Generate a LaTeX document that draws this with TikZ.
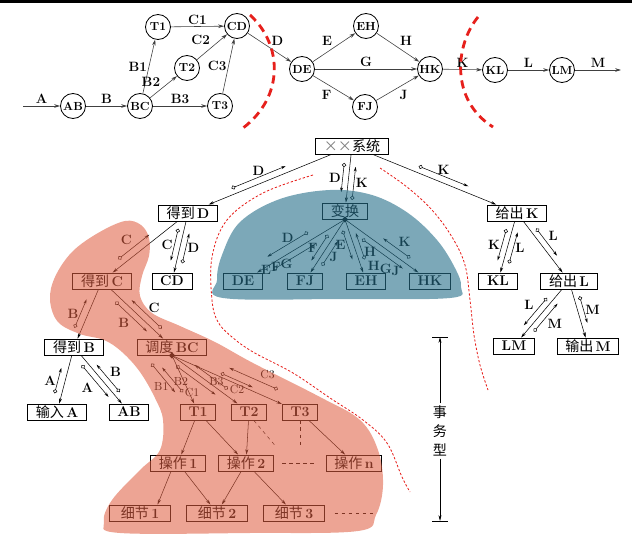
\documentclass[tikz,border=0pt]{standalone}
\usepackage{fontspec}
\newfontfamily\cjk{Noto Sans CJK SC}
\usetikzlibrary{arrows.meta,calc,shapes.geometric}
\definecolor{tint}{RGB}{223,93,64}
\definecolor{sea}{RGB}{37,110,137}
\definecolor{cutred}{RGB}{230,32,28}
\newcommand\zh[1]{{\cjk\mdseries #1}}
\newcommand\couple[8]{\draw[couple] ($(#1)!#3!(#2)!#4!90:(#2)$) -- node[lab,#7]{#8} ($(#1)!#5!(#2)!#6!90:(#2)$);}
\tikzset{
  mod/.style={draw, line width=0.8pt, fill=white, minimum height=4.8mm, inner xsep=7pt, inner ysep=1pt, font=\fontsize{12}{13}\selectfont\bfseries},
  bub/.style={circle, draw, line width=0.7pt, minimum size=7.5mm, inner sep=0pt, font=\fontsize{10}{11}\selectfont\bfseries},
  df/.style={-{Stealth[length=5pt,width=3pt]}, line width=0.5pt, draw=black!75},
  call/.style={-{Stealth[length=4.5pt,width=2.6pt]}, line width=0.45pt},
  couple/.style={{Circle[open,length=3.6pt,width=3.6pt]}-{Stealth[length=4pt,width=2.4pt]}, line width=0.45pt},
  lab/.style={font=\fontsize{11.5}{12}\selectfont\bfseries, inner sep=1.5pt},
  slab/.style={font=\fontsize{10}{11}\selectfont},
  cut/.style={cutred, line width=2.4pt, dash pattern=on 7pt off 4.5pt},
  fence/.style={cutred, line width=0.7pt, dash pattern=on 2pt off 1.6pt},
  zone/.style={fill=#1, fill opacity=0.56},
}
\begin{document}
\begin{tikzpicture}[x=0.03cm, y=-0.03cm]
\useasboundingbox (0,0) rectangle (632,535);
\fill (0,0) rectangle (632,3);
\node[bub] (pAB) at (73,106) {AB};
\node[bub] (pBC) at (140,106) {BC};
\node[bub] (pT1) at (158,27) {T1};
\node[bub] (pT2) at (187,68) {T2};
\node[bub] (pT3) at (220,106) {T3};
\node[bub] (pCD) at (237,26) {CD};
\node[bub] (pDE) at (302,69) {DE};
\node[bub] (pEH) at (366,26) {EH};
\node[bub] (pFJ) at (365,107) {FJ};
\node[bub] (pHK) at (430,69) {HK};
\node[bub] (pKL) at (495,70) {KL};
\node[bub] (pLM) at (562,70) {LM};
\coordinate (sA) at (23,106);
\coordinate (eM) at (621,70);
\draw[df] (sA) -- node[lab,above]{A} (pAB);
\draw[df] (pAB) -- node[lab,above]{B} (pBC);
\draw[df] (pBC) -- node[lab,left]{B1} (pT1);
\draw[df] (pBC) -- node[lab,above left,pos=0.45]{B2} (pT2);
\draw[df] (pBC) -- node[lab,above]{B3} (pT3);
\draw[df] (pT1) -- node[lab,above]{C1} (pCD);
\draw[df] (pT2) -- node[lab,above left]{C2} (pCD);
\draw[df] (pT3) -- node[lab,left]{C3} (pCD);
\draw[df] (pCD) -- node[lab,above right]{D} (pDE);
\draw[df] (pDE) -- node[lab,above left]{E} (pEH);
\draw[df] (pDE) -- node[lab,above]{G} (pHK);
\draw[df] (pDE) -- node[lab,below left]{F} (pFJ);
\draw[df] (pEH) -- node[lab,above right]{H} (pHK);
\draw[df] (pFJ) -- node[lab,below right]{J} (pHK);
\draw[df] (pHK) -- node[lab,above]{K} (pKL);
\draw[df] (pKL) -- node[lab,above]{L} (pLM);
\draw[df] (pLM) -- node[lab,above]{M} (eM);
\draw[cut] (250,15) .. controls (283,45) and (284,97) .. (243,128);
\draw[cut] (478,17) .. controls (455,45) and (450,100) .. (493,127);

\node[mod] (sys) at (352,146) {\zh{{\color{gray}××}系统}};
\node[mod] (gd) at (188,213) {\zh{得到}\,D};
\node[mod] (bh) at (345,211) {\zh{变换}};
\node[mod] (gk) at (517,213) {\zh{给出}\,K};
\node[mod] (gc) at (102,281) {\zh{得到}\,C};
\node[mod] (cd) at (172,281) {CD};
\node[mod] (de) at (243,281) {DE};
\node[mod] (fj) at (305,281) {FJ};
\node[mod] (eh) at (366,281) {EH};
\node[mod] (hk) at (430,281) {HK};
\node[mod] (kl) at (498,281) {KL};
\node[mod] (gl) at (569,281) {\zh{给出}\,L};
\node[mod] (gb) at (74,347) {\zh{得到}\,B};
\node[mod] (dd) at (172,347) {\zh{调度}\,BC};
\node[mod] (lm) at (514,346) {LM};
\node[mod] (om) at (588,346) {\zh{输出}\,M};
\node[mod] (sa) at (57,412) {\zh{输入}\,A};
\node[mod] (ab) at (129,412) {AB};
\node[mod] (ta) at (198,412) {T1};
\node[mod] (tb) at (249,412) {T2};
\node[mod] (tc) at (300,412) {T3};
\node[mod] (oa) at (178,463) {\zh{操作}\,1};
\node[mod] (ob) at (246,463) {\zh{操作}\,2};
\node[mod] (ox) at (354,463) {\zh{操作}\,n};
\node[mod, minimum width=1.85cm] (xa) at (140,513) {\zh{细节}\,1};
\node[mod, minimum width=1.85cm] (xb) at (217,513) {\zh{细节}\,2};
\node[mod, minimum width=1.85cm] (xc) at (294,513) {\zh{细节}\,3};
\node[diamond, fill, inner sep=0pt, minimum size=5.5pt] (dm) at (dd.south) {};
\node[diamond, fill, inner sep=0pt, minimum size=5.5pt] (dm2) at (bh.south) {};

\draw[call] (sys) -- (gd);
\draw[call] (sys) -- (bh);
\draw[call] (sys) -- (gk);
\draw[call] (gd) -- (gc);
\draw[call] (gd) -- (cd);
\draw[call] (gc) -- (gb);
\draw[call] (gc) -- (dd);
\draw[call] (gb) -- (sa);
\draw[call] (gb) -- (ab);
\draw[call] (dm) -- (ta);
\draw[call] (dm) -- (tb);
\draw[call] (dm) -- (tc);
\draw[call] (ta) -- (oa);
\draw[call] (ta) -- (ob);
\draw[call] (tb) -- (ob);
\draw[call] (tc) -- (ox);
\draw[call] ([xshift=-6pt]oa.south) -- ([xshift=15pt]xa.north);
\draw[call] (oa) -- (xb);
\draw[call] (ob) -- (xb);
\draw[call] (ob) -- (xc);
\draw[call] (dm2) -- (de);
\draw[call] (dm2) -- (fj);
\draw[call] (dm2) -- (eh);
\draw[call] (dm2) -- (hk);
\draw[call] (gk) -- (kl);
\draw[call] (gk) -- (gl);
\draw[call] (gl) -- (lm);
\draw[call] (gl) -- (om);
\draw[dashed] (tb.-60) -- ++(22,26);
\draw[dashed] (tc.south) -- ++(0,27);
\draw[dashed, shorten <=7pt, shorten >=8pt] (ob) -- (ox);
\draw[dashed] ([xshift=8pt]xc.east) -- ++(42,0);

\couple{sys}{gd}{0.72}{-5.5pt}{0.39}{-5.5pt}{above}{D}
\couple{sys}{bh}{0.27}{-5pt}{0.72}{-5pt}{left}{D}
\couple{sys}{bh}{0.82}{5pt}{0.31}{5pt}{right}{K}
\couple{sys}{gk}{0.39}{5.5pt}{0.69}{5.5pt}{above}{K}
\couple{gd}{gc}{0.76}{-6pt}{0.40}{-6pt}{above left}{C}
\couple{gd}{cd}{0.25}{-5pt}{0.72}{-5pt}{left}{C}
\couple{gd}{cd}{0.72}{5pt}{0.28}{5pt}{right}{D}
\couple{gc}{gb}{0.75}{-6pt}{0.32}{-6pt}{left}{B}
\couple{gc}{dd}{0.25}{-5pt}{0.70}{-5pt}{below left}{B}
\couple{gc}{dd}{0.79}{5.5pt}{0.36}{5.5pt}{above right}{C}
\couple{gb}{sa}{0.74}{-6pt}{0.35}{-6pt}{left}{A}
\couple{gb}{ab}{0.22}{-5pt}{0.71}{-5pt}{below left}{A}
\couple{gb}{ab}{0.75}{5pt}{0.33}{5pt}{above right}{B}
\couple{dm}{ta}{-0.02}{-19pt}{0.56}{-10.7pt}{slab,pos=0.8,left}{B1}
\couple{dm}{ta}{0.61}{-4.6pt}{0.11}{-12pt}{slab,pos=0,right}{C1}
\couple{dm}{tb}{0.1}{-5pt}{0.61}{-5pt}{slab,pos=0.35,below left}{B2}
\couple{dm}{tb}{0.68}{5pt}{0.25}{5pt}{slab,pos=0,right}{C2}
\couple{dm}{tc}{0.37}{3pt}{0.62}{3pt}{slab,pos=0.15,below left}{B3}
\couple{dm}{tc}{0.79}{10pt}{0.41}{10pt}{slab,pos=0.4,above right}{C3}
\couple{dm2}{de}{0.32}{-7pt}{0.72}{-7pt}{above}{D}
\couple{dm2}{de}{0.73}{5pt}{0.32}{5pt}{below left}{E\raisebox{2.5pt}{F}\raisebox{5pt}{G}}
\couple{dm2}{fj}{0.3}{-5pt}{0.72}{-5pt}{left}{F}
\couple{dm2}{fj}{0.7}{5pt}{0.3}{5pt}{pos=0.35,right}{J}
\couple{dm2}{eh}{0.15}{-5pt}{0.62}{-5pt}{left}{E}
\couple{dm2}{eh}{0.68}{5pt}{0.25}{5pt}{pos=0.3,right=0pt}{H}
\couple{dm2}{hk}{0.24}{-5pt}{0.72}{-5pt}{pos=1,left=1pt}{H\raisebox{-2.5pt}{G}\raisebox{-5pt}{J}}
\couple{dm2}{hk}{0.72}{6pt}{0.4}{6pt}{above right}{K}
\couple{gk}{kl}{0.26}{-5pt}{0.72}{-5pt}{left}{K}
\couple{gk}{kl}{0.72}{5pt}{0.26}{5pt}{right}{L}
\couple{gk}{gl}{0.28}{5pt}{0.68}{5pt}{above right}{L}
\couple{gl}{lm}{0.32}{-5pt}{0.74}{-5pt}{above left}{L}
\couple{gl}{lm}{0.72}{5pt}{0.29}{5pt}{below right}{M}
\couple{gl}{om}{0.26}{5pt}{0.67}{5pt}{right}{M}

\fill[zone=tint] plot[smooth cycle, tension=0.6] coordinates {(125,221) (141,225) (149,238) (149,256) (142,276) (140,296) (152,313) (180,326) (215,342) (253,363) (320,397) (360,420) (378,450) (383,485) (376,515) (358,531) (250,533) (120,533) (104,522) (112,500) (140,470) (160,450) (163,420) (155,398) (140,372) (122,352) (104,340) (80,334) (58,322) (50,300) (55,277) (72,252) (98,233)};
\fill[zone=sea, fill opacity=0.6] plot[smooth cycle, tension=0.6] coordinates {(330,190) (372,195) (408,213) (437,240) (455,268) (461,287) (450,298) (340,299) (223,298) (217,280) (222,255) (240,222) (280,199)};
\draw[fence] plot[smooth, tension=0.6] coordinates {(313,175) (263,193) (227,220) (212,257) (212,300) (218,322) (232,337) (253,352) (293,373) (330,398) (363,420) (387,443) (402,477) (410,492)};
\draw[fence] plot[smooth, tension=0.6] coordinates {(380,168) (407,187) (432,210) (452,237) (465,265) (470,300) (474,335) (480,365) (488,390)};

\coordinate (ttop) at (440,337);
\coordinate (tbot) at (440,521);
\node[align=center, inner sep=2pt, font=\cjk\fontsize{12}{16}\selectfont] (sw) at (440,431) {事\\务\\型};
\draw[-{Stealth[length=5pt,width=2.5pt]}, line width=0.5pt] (sw) -- (ttop);
\draw[-{Stealth[length=5pt,width=2.5pt]}, line width=0.5pt] (sw) -- (tbot);
\draw[line width=0.5pt] (ttop) ++(-8,0) -- ++(16,0);
\draw[line width=0.5pt] (tbot) ++(-8,0) -- ++(16,0);
\end{tikzpicture}
\end{document}
